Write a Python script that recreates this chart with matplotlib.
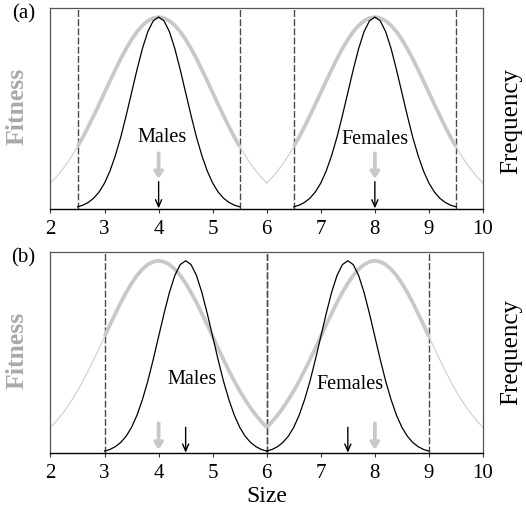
import matplotlib.pyplot as plt
import numpy as np

# fitness and size-frequency profiles, sampled every 0.1 size units
FITNESS_PEAKS = [4.0, 8.0]          # males, females
MEANS_A = [4.0, 8.0]                # panel (a): populations sit on their optima
MEANS_B = [4.5, 7.5]                # panel (b): populations displaced towards each other
SEXES = ["Males", "Females"]

FIT_OFFSETS = np.linspace(-2.0, 2.0, 41)
FITNESS_PROFILE = [0.129, 0.157, 0.189, 0.225, 0.266, 0.310, 0.358, 0.410, 0.465, 0.521,
                   0.579, 0.637, 0.693, 0.748, 0.798, 0.843, 0.882, 0.913, 0.936, 0.950,
                   0.955,
                   0.950, 0.936, 0.913, 0.882, 0.843, 0.798, 0.748, 0.693, 0.637, 0.579,
                   0.521, 0.465, 0.410, 0.358, 0.310, 0.266, 0.225, 0.189, 0.157, 0.129]

FREQ_OFFSETS = np.linspace(-1.5, 1.5, 31)
FREQ_PROFILE = [0.011, 0.019, 0.033, 0.054, 0.085, 0.129, 0.189, 0.266, 0.358, 0.465,
                0.579, 0.693, 0.798, 0.882, 0.936,
                0.955,
                0.936, 0.882, 0.798, 0.693, 0.579, 0.465, 0.358, 0.266, 0.189, 0.129,
                0.085, 0.054, 0.033, 0.019, 0.011]

HALF_RANGE = 1.5
XTICKS = [2, 3, 4, 5, 6, 7, 8, 9, 10]

LABEL_POS_A = [(4.07, 0.358), (8.01, 0.346)]
LABEL_POS_B = [(4.62, 0.366), (7.54, 0.339)]

GREY_THICK = "#c8c8c8"
GREY_THIN = "#d2d2d2"
FRAME = "#555555"

plt.rcParams["font.family"] = ["Liberation Serif", "DejaVu Serif"]

fitness = np.array(FITNESS_PROFILE)
freq = np.array(FREQ_PROFILE)


def draw_panel(ax, means, label_pos, tag, freq_y, stacked):
    for peak, mean, sex, (lx, ly) in zip(FITNESS_PEAKS, means, SEXES, label_pos):
        x_fit = peak + FIT_OFFSETS
        ax.plot(x_fit, fitness, color=GREY_THIN, lw=0.9, zorder=2)
        inside = (x_fit >= mean - HALF_RANGE - 1e-9) & (x_fit <= mean + HALF_RANGE + 1e-9)
        ax.plot(x_fit[inside], fitness[inside], color=GREY_THICK, lw=2.7,
                solid_capstyle="butt", zorder=3)

        ax.plot(mean + FREQ_OFFSETS, freq, color="black", lw=0.9, zorder=4)

        for edge in (mean - HALF_RANGE, mean + HALF_RANGE):
            ax.axvline(edge, color="#4a4a4a", lw=1.0, ls=(0, (5, 1.6)), zorder=1)

        if stacked:
            g_top, g_tip, k_top = 0.277, 0.150, 0.136
        else:
            g_top, g_tip, k_top = 0.149, 0.018, 0.129
        ax.annotate("", xy=(peak, g_tip), xytext=(peak, g_top),
                    arrowprops=dict(arrowstyle="->,head_length=0.38,head_width=0.25",
                                    color=GREY_THICK, lw=2.7, shrinkA=0, shrinkB=0),
                    zorder=5)
        ax.annotate("", xy=(mean, 0.003), xytext=(mean, k_top),
                    arrowprops=dict(arrowstyle="->,head_length=0.5,head_width=0.22",
                                    color="black", lw=1.0, shrinkA=0, shrinkB=0),
                    zorder=6)

        ax.text(lx, ly, sex, ha="center", va="center", fontsize=14.5, zorder=7)

    ax.set_xlim(2, 10)
    ax.set_ylim(0, 1)
    ax.set_xticks(XTICKS)
    ax.set_yticks([])
    ax.tick_params(axis="x", direction="out", length=3, width=0.8, labelsize=15,
                   pad=5, color="#333333")
    for side in ("top", "left", "right"):
        ax.spines[side].set_color(FRAME)
        ax.spines[side].set_linewidth(0.9)
    ax.spines["bottom"].set_color("black")
    ax.spines["bottom"].set_linewidth(1.0)

    ax.text(-0.077, 0.51, "Fitness", transform=ax.transAxes, rotation=90,
            ha="center", va="center", fontsize=18.5, fontweight="bold", color="#a9a9a9")
    ax.text(1.065, freq_y, "Frequency", transform=ax.transAxes, rotation=90,
            ha="center", va="center", fontsize=18)
    ax.text(-0.063, 0.97, tag, transform=ax.transAxes, ha="center", va="center",
            fontsize=15)


fig = plt.figure(figsize=(5.26, 5.13), dpi=100)
ax_a = fig.add_axes([0.096, 0.5926, 0.8222, 0.3918])
ax_b = fig.add_axes([0.096, 0.1164, 0.8222, 0.3930])

draw_panel(ax_a, MEANS_A, LABEL_POS_A, "(a)", 0.438, stacked=True)
draw_panel(ax_b, MEANS_B, LABEL_POS_B, "(b)", 0.5, stacked=False)
ax_b.set_xlabel("Size", fontsize=17, labelpad=2)

fig.savefig("out.png", dpi=100)
